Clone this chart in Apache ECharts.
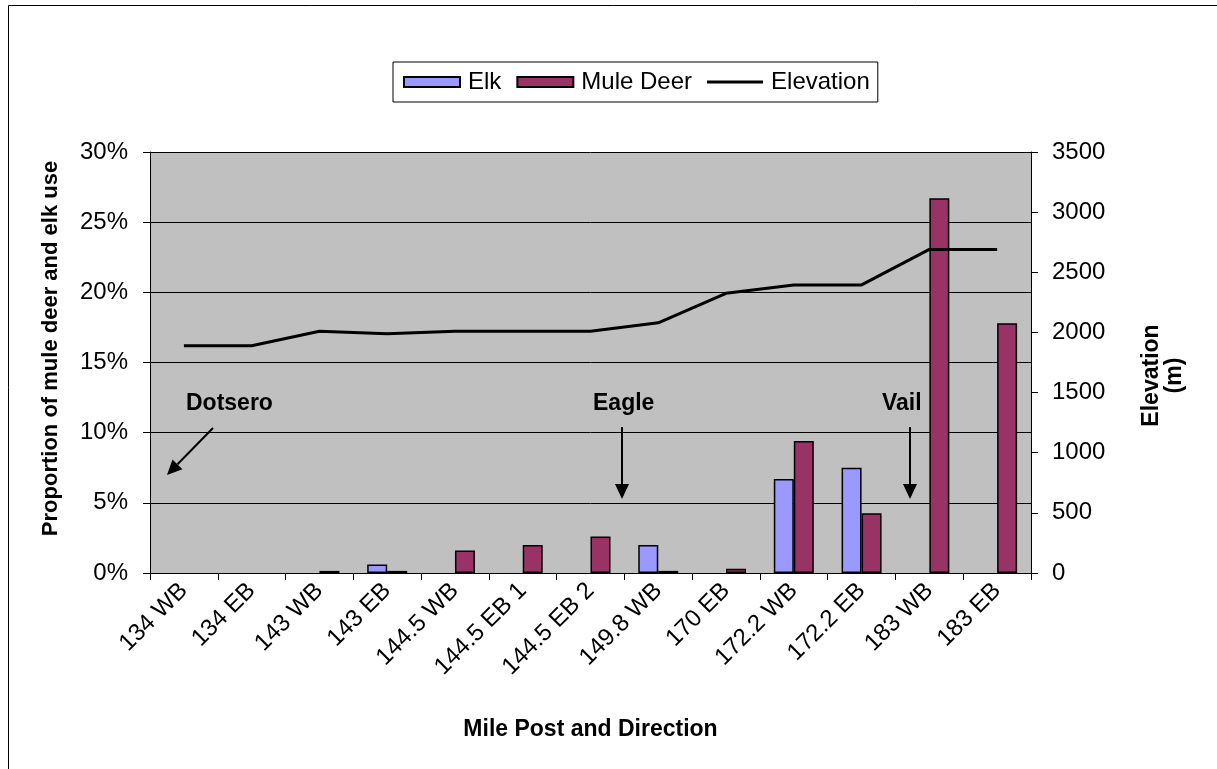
<!DOCTYPE html>
<html>
<head>
<meta charset="utf-8">
<script src="https://cdn.jsdelivr.net/npm/echarts@6/dist/echarts.min.js"></script>
<style>
  html, body { margin: 0; padding: 0; background: #fff; }
  #chart { width: 1217px; height: 769px; }
</style>
</head>
<body>
<div id="chart"></div>
<script>
// Mile post / direction of each crossing structure
const categories = ['134 WB', '134 EB', '143 WB', '143 EB', '144.5 WB', '144.5 EB 1', '144.5 EB 2',
                    '149.8 WB', '170 EB', '172.2 WB', '172.2 EB', '183 WB', '183 EB'];
// Proportion of use (%)
const elk      = [0, 0, 0, 0.6, 0, 0, 0, 2.0, 0, 6.7, 7.5, 0, 0];
const muleDeer = [0, 0, 0.15, 0.15, 1.6, 2.0, 2.6, 0.15, 0.3, 9.4, 4.25, 26.7, 17.8];
// Elevation (m)
const elevation = [1890, 1890, 2010, 1990, 2010, 2010, 2010, 2080, 2325, 2395, 2395, 2690, 2690];
// Town markers along the corridor
const towns = [
  { name: 'Dotsero', tx: 186, ty: 404, from: [213, 428], to: [167, 475] },
  { name: 'Eagle',   tx: 593, ty: 404, from: [622, 427], to: [622, 499] },
  { name: 'Vail',    tx: 882, ty: 404, from: [910, 427], to: [910, 499] }
];

const FONT = 'Liberation Sans, Arial, sans-serif';

function arrow(from, to) {
  const [x1, y1] = from, [x2, y2] = to;
  const dx = x2 - x1, dy = y2 - y1, L = Math.hypot(dx, dy);
  const ux = dx / L, uy = dy / L, head = 15, half = 7;
  const bx = x2 - ux * head, by = y2 - uy * head;
  const px = -uy, py = ux;
  return [
    { type: 'line', shape: { x1: x1, y1: y1, x2: bx, y2: by }, style: { stroke: '#000', lineWidth: 2 } },
    { type: 'polygon', shape: { points: [[x2, y2], [bx + px * half, by + py * half], [bx - px * half, by - py * half]] },
      style: { fill: '#000' } }
  ];
}

// Zero-use bars get no outline so nothing is drawn for them
function barData(values) {
  return values.map(v => v === 0 ? { value: 0, itemStyle: { borderWidth: 0 } } : v);
}

const graphics = [
  { type: 'rect', shape: { x: 8.5, y: 5.5, width: 1400, height: 1000 },
    style: { fill: 'none', stroke: '#000', lineWidth: 1 }, silent: true, z: -1 }
];
towns.forEach(t => {
  graphics.push({ type: 'text', x: t.tx, y: t.ty, z: 10,
    style: { text: t.name, font: 'bold 23px ' + FONT, fill: '#000', verticalAlign: 'middle' } });
  arrow(t.from, t.to).forEach(g => { g.z = 10; graphics.push(g); });
});

const chart = echarts.init(document.getElementById('chart'), null, { renderer: 'canvas' });
chart.setOption({
  backgroundColor: '#fff',
  animation: false,
  textStyle: { fontFamily: FONT, color: '#000' },
  grid: { left: 150, right: 186, top: 152, bottom: 196, show: true, backgroundColor: '#C0C0C0', borderWidth: 0 },
  legend: {
    left: 393, top: 62,
    padding: [8, 8, 8, 10],
    borderColor: '#000', borderWidth: 1,
    itemWidth: 56, itemHeight: 10, itemGap: 15,
    symbolKeepAspect: true,
    textStyle: { fontSize: 24, color: '#000', fontFamily: FONT, padding: [0, 0, 0, 3] },
    data: [
      { name: 'Elk', icon: 'rect' },
      { name: 'Mule Deer', icon: 'rect' },
      { name: 'Elevation', icon: 'path://M0,0L56,0L56,3L0,3Z' }
    ]
  },
  xAxis: {
    type: 'category',
    data: categories,
    boundaryGap: true,
    name: 'Mile Post and Direction',
    nameLocation: 'middle',
    nameGap: 145,
    nameTextStyle: { fontSize: 23, fontWeight: 'bold', color: '#000' },
    axisLine: { lineStyle: { color: '#000', width: 1 } },
    axisTick: { show: true, length: 7, lineStyle: { color: '#000' } },
    axisLabel: { rotate: 45, fontSize: 24, color: '#000', margin: 14, interval: 0 },
    splitLine: { show: false }
  },
  yAxis: [
    {
      type: 'value', min: 0, max: 30, interval: 5,
      name: 'Proportion of mule deer and elk use',
      nameLocation: 'middle', nameRotate: 90, nameGap: 88,
      nameTextStyle: { fontSize: 22, fontWeight: 'bold', color: '#000', padding: [0, 0, 0, 28] },
      axisLine: { show: true, lineStyle: { color: '#000', width: 1 } },
      axisTick: { show: true, length: 7, lineStyle: { color: '#000' } },
      axisLabel: { formatter: v => v + '%', fontSize: 24, color: '#000', margin: 22 },
      splitLine: { show: true, lineStyle: { color: '#000', width: 1 } }
    },
    {
      type: 'value', min: 0, max: 3500, interval: 500,
      name: 'Elevation\n(m)',
      nameLocation: 'middle', nameRotate: 90, nameGap: 109,
      nameTextStyle: { fontSize: 23, fontWeight: 'bold', color: '#000', align: 'center', padding: [0, 26, 0, 0] },
      axisLine: { show: true, lineStyle: { color: '#000', width: 1 } },
      axisTick: { show: true, length: 7, lineStyle: { color: '#000' } },
      axisLabel: { formatter: v => String(v), fontSize: 24, color: '#000', margin: 21 },
      splitLine: { show: false }
    }
  ],
  series: [
    {
      name: 'Elk', type: 'bar', data: barData(elk), yAxisIndex: 0,
      barWidth: 20, barGap: '0%',
      itemStyle: { color: '#9999FF', borderColor: '#000', borderWidth: 1.5 }
    },
    {
      name: 'Mule Deer', type: 'bar', data: barData(muleDeer), yAxisIndex: 0,
      barWidth: 20, barGap: '0%',
      itemStyle: { color: '#993366', borderColor: '#000', borderWidth: 1.5 }
    },
    {
      name: 'Elevation', type: 'line', data: elevation, yAxisIndex: 1,
      symbol: 'none', showSymbol: false, z: 5,
      lineStyle: { color: '#000', width: 3 },
      itemStyle: { color: '#000' }
    }
  ],
  graphic: graphics
});
</script>
</body>
</html>
